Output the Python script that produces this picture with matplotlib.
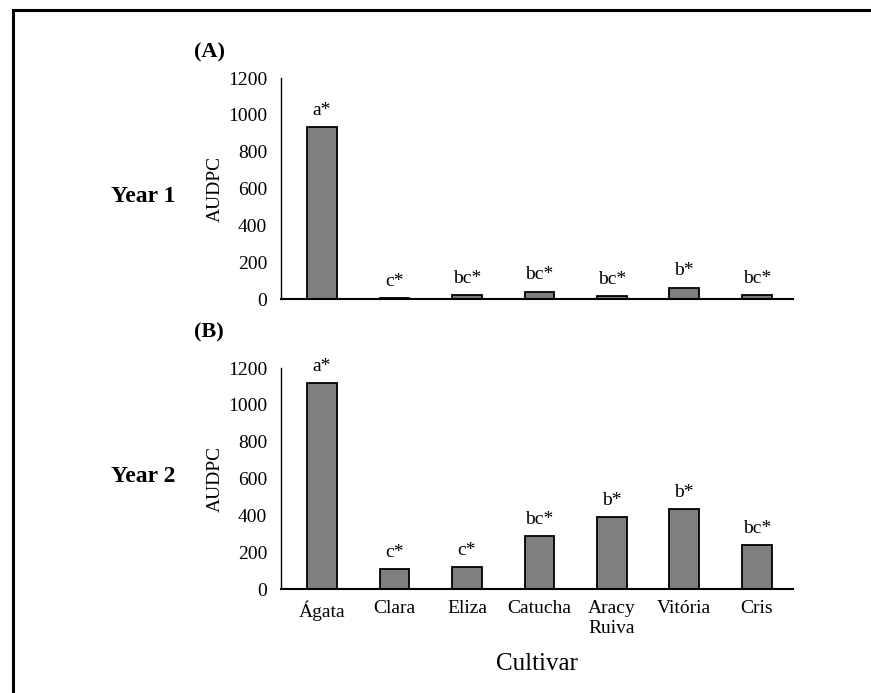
import matplotlib.pyplot as plt
from matplotlib.lines import Line2D

plt.rcParams['font.family'] = ['Liberation Serif', 'DejaVu Serif']

cultivars = ['Ágata', 'Clara', 'Eliza', 'Catucha', 'Aracy\nRuiva', 'Vitória', 'Cris']
year1 = [934, 5, 20, 40, 15, 62, 20]
year2 = [1118, 109, 120, 288, 391, 434, 239]
letters1 = ['a*', 'c*', 'bc*', 'bc*', 'bc*', 'b*', 'bc*']
letters2 = ['a*', 'c*', 'c*', 'bc*', 'b*', 'b*', 'bc*']
yticks = [0, 200, 400, 600, 800, 1000, 1200]

fig = plt.figure(figsize=(8.71, 6.93), dpi=100)
fig.patch.set_facecolor('white')

# outer frame (top and left edges only)
fig.add_artist(Line2D([13/871, 1.0], [1 - 10/693, 1 - 10/693], color='black', lw=2.2))
fig.add_artist(Line2D([13/871, 13/871], [0, 1 - 10/693], color='black', lw=2.2))

ax1 = fig.add_axes([0.3226, 0.5685, 0.5878, 0.3189])
ax2 = fig.add_axes([0.3226, 0.150, 0.5878, 0.3189])

x = list(range(len(cultivars)))
for ax, vals, lets in [(ax1, year1, letters1), (ax2, year2, letters2)]:
    ax.bar(x, vals, width=0.41, color='#7f7f7f', edgecolor='black', linewidth=1.3)
    for xi, v, t in zip(x, vals, lets):
        ax.text(xi, v + 45, t, ha='center', va='bottom', fontsize=14)
    ax.set_ylim(0, 1200)
    ax.set_xlim(-0.566, 6.5)
    ax.set_yticks(yticks)
    ax.set_ylabel('AUDPC', fontsize=14, labelpad=3)
    for s in ['top', 'right']:
        ax.spines[s].set_visible(False)
    ax.spines['left'].set_linewidth(1.0)
    ax.spines['bottom'].set_linewidth(1.5)
    ax.tick_params(axis='y', labelsize=14, length=0, pad=10)
    ax.tick_params(axis='x', length=0)
    ax.set_facecolor('none')

ax1.set_xticks(x)
ax1.set_xticklabels([])
ax2.set_xticks(x)
ax2.set_xticklabels(cultivars, fontsize=14, linespacing=1.2)
ax2.tick_params(axis='x', pad=8)
ax2.set_xlabel('Cultivar', fontsize=18, labelpad=12)

fig.text(209/871, 1 - 52/693, '(A)', ha='center', va='center', fontsize=16, fontweight='bold')
fig.text(209/871, 1 - 332/693, '(B)', ha='center', va='center', fontsize=16, fontweight='bold')
fig.text(143/871, 1 - 196/693, 'Year 1', ha='center', va='center', fontsize=17, fontweight='bold')
fig.text(143/871, 1 - 476/693, 'Year 2', ha='center', va='center', fontsize=17, fontweight='bold')

fig.savefig('out.png', dpi=100)
